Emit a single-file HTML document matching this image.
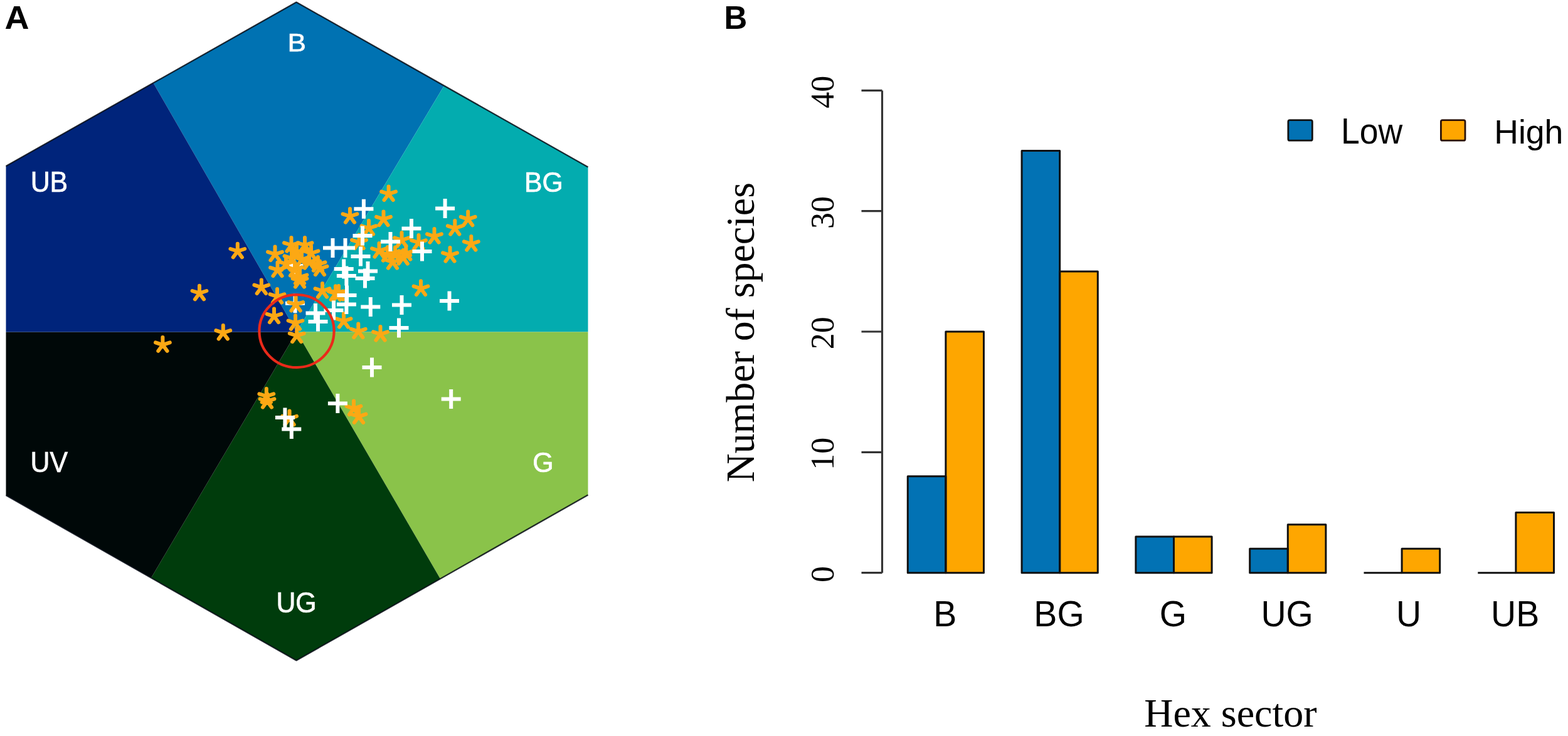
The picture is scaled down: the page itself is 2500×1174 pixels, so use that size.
<!DOCTYPE html>
<html><head><meta charset="utf-8"><title>Hexagon colour space and hex sectors</title>
<style>
html,body{margin:0;padding:0;background:#fff;}
body{width:2500px;height:1174px;overflow:hidden;}
svg{display:block;}
.sans{font-family:"Liberation Sans",Arial,Helvetica,sans-serif;}
.serif{font-family:"Liberation Serif","Times New Roman",serif;}
</style></head>
<body>
<svg width="2500" height="1174" viewBox="0 0 2500 1174">
<rect width="2500" height="1174" fill="#fff"/>
<!-- Panel A: hexagon -->
<g id="hex">
<polygon points="473.0,529.5 244.5,132.3 472.5,3.5 708.0,136.7" fill="#0072b2"/><polygon points="473.0,529.5 708.0,136.7 937.5,266.5 937.5,529.5" fill="#03acaf"/><polygon points="473.0,529.5 937.5,529.5 937.5,789.5 702.0,923.2" fill="#8ac34a"/><polygon points="473.0,529.5 702.0,923.2 472.5,1053.5 241.0,921.8" fill="#003c0c"/><polygon points="473.0,529.5 241.0,921.8 9.5,790.0 9.5,529.5" fill="#000808"/><polygon points="473.0,529.5 9.5,529.5 9.5,265.0 244.5,132.3" fill="#00247b"/>
<path d="M9.5,265.0 L472.5,3.5 L937.5,266.5 M937.5,789.5 L472.5,1053.5 L9.5,790.0" fill="none" stroke="#050a14" stroke-width="2.2" stroke-linejoin="round" stroke-opacity="0.85"/>
</g>
<g class="sans" fill="#fff" stroke="#fff" stroke-width="0.7" font-size="42.8" text-anchor="middle">
<text transform="translate(473.2 82.2) scale(1.03,0.95)">B</text>
<text transform="translate(78.4 306.3) scale(1,1.06)">UB</text>
<text transform="translate(867 306.3) scale(1,1.05)">BG</text>
<text transform="translate(78.2 752.9) scale(1,1.06)">UV</text>
<text transform="translate(866 753) scale(1,1.05)">G</text>
<text transform="translate(472.5 976.5) scale(1,1.06)">UG</text>
</g>
<path d="M452.5 424.0H483.5M468.0 408.5V439.5M455.0 483.7H486.0M470.5 468.2V499.2" fill="none" stroke="#fff" stroke-width="6"/>
<path d="M378.8 400.7L378.8 388.7M378.8 400.7L390.2 397.0M378.8 400.7L385.9 410.4M378.8 400.7L371.7 410.4M378.8 400.7L367.4 397.0M318.0 467.7L318.0 455.7M318.0 467.7L329.4 464.0M318.0 467.7L325.1 477.4M318.0 467.7L310.9 477.4M318.0 467.7L306.6 464.0M355.8 530.9L355.8 518.9M355.8 530.9L367.2 527.2M355.8 530.9L362.9 540.6M355.8 530.9L348.7 540.6M355.8 530.9L344.4 527.2M259.4 550.1L259.4 538.1M259.4 550.1L270.8 546.4M259.4 550.1L266.5 559.8M259.4 550.1L252.3 559.8M259.4 550.1L248.0 546.4M416.8 458.4L416.8 446.4M416.8 458.4L428.2 454.7M416.8 458.4L423.9 468.1M416.8 458.4L409.7 468.1M416.8 458.4L405.4 454.7M437.0 504.5L437.0 492.5M437.0 504.5L448.4 500.8M437.0 504.5L444.1 514.2M437.0 504.5L429.9 514.2M437.0 504.5L425.6 500.8M438.5 405.5L438.5 393.5M438.5 405.5L449.9 401.8M438.5 405.5L445.6 415.2M438.5 405.5L431.4 415.2M438.5 405.5L427.1 401.8M442.5 430.5L442.5 418.5M442.5 430.5L453.9 426.8M442.5 430.5L449.6 440.2M442.5 430.5L435.4 440.2M442.5 430.5L431.1 426.8M442.0 473.0L442.0 461.0M442.0 473.0L453.4 469.3M442.0 473.0L449.1 482.7M442.0 473.0L434.9 482.7M442.0 473.0L430.6 469.3M471.6 485.8L471.6 473.8M471.6 485.8L483.0 482.1M471.6 485.8L478.7 495.5M471.6 485.8L464.5 495.5M471.6 485.8L460.2 482.1M471.0 515.2L471.0 503.2M471.0 515.2L482.4 511.5M471.0 515.2L478.1 524.9M471.0 515.2L463.9 524.9M471.0 515.2L459.6 511.5M473.2 535.5L473.2 523.5M473.2 535.5L484.6 531.8M473.2 535.5L480.3 545.2M473.2 535.5L466.1 545.2M473.2 535.5L461.8 531.8M478.0 448.0L478.0 436.0M478.0 448.0L489.4 444.3M478.0 448.0L485.1 457.7M478.0 448.0L470.9 457.7M478.0 448.0L466.6 444.3M464.5 391.0L464.5 379.0M464.5 391.0L475.9 387.3M464.5 391.0L471.6 400.7M464.5 391.0L457.4 400.7M464.5 391.0L453.1 387.3M486.0 391.0L486.0 379.0M486.0 391.0L497.4 387.3M486.0 391.0L493.1 400.7M486.0 391.0L478.9 400.7M486.0 391.0L474.6 387.3M473.0 402.0L473.0 390.0M473.0 402.0L484.4 398.3M473.0 402.0L480.1 411.7M473.0 402.0L465.9 411.7M473.0 402.0L461.6 398.3M496.0 404.0L496.0 392.0M496.0 404.0L507.4 400.3M496.0 404.0L503.1 413.7M496.0 404.0L488.9 413.7M496.0 404.0L484.6 400.3M465.0 412.0L465.0 400.0M465.0 412.0L476.4 408.3M465.0 412.0L472.1 421.7M465.0 412.0L457.9 421.7M465.0 412.0L453.6 408.3M481.0 414.0L481.0 402.0M481.0 414.0L492.4 410.3M481.0 414.0L488.1 423.7M481.0 414.0L473.9 423.7M481.0 414.0L469.6 410.3M493.0 418.0L493.0 406.0M493.0 418.0L504.4 414.3M493.0 418.0L500.1 427.7M493.0 418.0L485.9 427.7M493.0 418.0L481.6 414.3M507.0 422.0L507.0 410.0M507.0 422.0L518.4 418.3M507.0 422.0L514.1 431.7M507.0 422.0L499.9 431.7M507.0 422.0L495.6 418.3M470.0 430.0L470.0 418.0M470.0 430.0L481.4 426.3M470.0 430.0L477.1 439.7M470.0 430.0L462.9 439.7M470.0 430.0L458.6 426.3M510.0 428.5L510.0 416.5M510.0 428.5L521.4 424.8M510.0 428.5L517.1 438.2M510.0 428.5L502.9 438.2M510.0 428.5L498.6 424.8M478.0 442.2L478.0 430.2M478.0 442.2L489.4 438.5M478.0 442.2L485.1 451.9M478.0 442.2L470.9 451.9M478.0 442.2L466.6 438.5M456.0 421.0L456.0 409.0M456.0 421.0L467.4 417.3M456.0 421.0L463.1 430.7M456.0 421.0L448.9 430.7M456.0 421.0L444.6 417.3M514.0 464.0L514.0 452.0M514.0 464.0L525.4 460.3M514.0 464.0L521.1 473.7M514.0 464.0L506.9 473.7M514.0 464.0L502.6 460.3M535.0 468.3L535.0 456.3M535.0 468.3L546.4 464.6M535.0 468.3L542.1 478.0M535.0 468.3L527.9 478.0M535.0 468.3L523.6 464.6M548.0 512.0L548.0 500.0M548.0 512.0L559.4 508.3M548.0 512.0L555.1 521.7M548.0 512.0L540.9 521.7M548.0 512.0L536.6 508.3M571.3 528.5L571.3 516.5M571.3 528.5L582.7 524.8M571.3 528.5L578.4 538.2M571.3 528.5L564.2 538.2M571.3 528.5L559.9 524.8M606.5 533.0L606.5 521.0M606.5 533.0L617.9 529.3M606.5 533.0L613.6 542.7M606.5 533.0L599.4 542.7M606.5 533.0L595.1 529.3M540.0 468.0L540.0 456.0M540.0 468.0L551.4 464.3M540.0 468.0L547.1 477.7M540.0 468.0L532.9 477.7M540.0 468.0L528.6 464.3M572.5 386.5L572.5 374.5M572.5 386.5L583.9 382.8M572.5 386.5L579.6 396.2M572.5 386.5L565.4 396.2M572.5 386.5L561.1 382.8M558.0 345.0L558.0 333.0M558.0 345.0L569.4 341.3M558.0 345.0L565.1 354.7M558.0 345.0L550.9 354.7M558.0 345.0L546.6 341.3M611.5 349.5L611.5 337.5M611.5 349.5L622.9 345.8M611.5 349.5L618.6 359.2M611.5 349.5L604.4 359.2M611.5 349.5L600.1 345.8M588.0 364.0L588.0 352.0M588.0 364.0L599.4 360.3M588.0 364.0L595.1 373.7M588.0 364.0L580.9 373.7M588.0 364.0L576.6 360.3M619.6 309.4L619.6 297.4M619.6 309.4L631.0 305.7M619.6 309.4L626.7 319.1M619.6 309.4L612.5 319.1M619.6 309.4L608.2 305.7M746.2 349.6L746.2 337.6M746.2 349.6L757.6 345.9M746.2 349.6L753.3 359.3M746.2 349.6L739.1 359.3M746.2 349.6L734.8 345.9M725.3 364.0L725.3 352.0M725.3 364.0L736.7 360.3M725.3 364.0L732.4 373.7M725.3 364.0L718.2 373.7M725.3 364.0L713.9 360.3M692.5 377.0L692.5 365.0M692.5 377.0L703.9 373.3M692.5 377.0L699.6 386.7M692.5 377.0L685.4 386.7M692.5 377.0L681.1 373.3M751.3 389.0L751.3 377.0M751.3 389.0L762.7 385.3M751.3 389.0L758.4 398.7M751.3 389.0L744.2 398.7M751.3 389.0L739.9 385.3M717.5 407.0L717.5 395.0M717.5 407.0L728.9 403.3M717.5 407.0L724.6 416.7M717.5 407.0L710.4 416.7M717.5 407.0L706.1 403.3M640.5 383.0L640.5 371.0M640.5 383.0L651.9 379.3M640.5 383.0L647.6 392.7M640.5 383.0L633.4 392.7M640.5 383.0L629.1 379.3M667.5 387.0L667.5 375.0M667.5 387.0L678.9 383.3M667.5 387.0L674.6 396.7M667.5 387.0L660.4 396.7M667.5 387.0L656.1 383.3M604.5 400.0L604.5 388.0M604.5 400.0L615.9 396.3M604.5 400.0L611.6 409.7M604.5 400.0L597.4 409.7M604.5 400.0L593.1 396.3M618.0 406.0L618.0 394.0M618.0 406.0L629.4 402.3M618.0 406.0L625.1 415.7M618.0 406.0L610.9 415.7M618.0 406.0L606.6 402.3M630.0 406.4L630.0 394.4M630.0 406.4L641.4 402.7M630.0 406.4L637.1 416.1M630.0 406.4L622.9 416.1M630.0 406.4L618.6 402.7M642.7 411.0L642.7 399.0M642.7 411.0L654.1 407.3M642.7 411.0L649.8 420.7M642.7 411.0L635.6 420.7M642.7 411.0L631.3 407.3M626.0 418.0L626.0 406.0M626.0 418.0L637.4 414.3M626.0 418.0L633.1 427.7M626.0 418.0L618.9 427.7M626.0 418.0L614.6 414.3M647.3 404.0L647.3 392.0M647.3 404.0L658.7 400.3M647.3 404.0L654.4 413.7M647.3 404.0L640.2 413.7M647.3 404.0L635.9 400.3M671.0 460.3L671.0 448.3M671.0 460.3L682.4 456.6M671.0 460.3L678.1 470.0M671.0 460.3L663.9 470.0M671.0 460.3L659.6 456.6M424.8 632.0L424.8 620.0M424.8 632.0L436.2 628.3M424.8 632.0L431.9 641.7M424.8 632.0L417.7 641.7M424.8 632.0L413.4 628.3M426.0 640.0L426.0 628.0M426.0 640.0L437.4 636.3M426.0 640.0L433.1 649.7M426.0 640.0L418.9 649.7M426.0 640.0L414.6 636.3M461.6 667.6L461.6 655.6M461.6 667.6L473.0 663.9M461.6 667.6L468.7 677.3M461.6 667.6L454.5 677.3M461.6 667.6L450.2 663.9M564.0 651.6L564.0 639.6M564.0 651.6L575.4 647.9M564.0 651.6L571.1 661.3M564.0 651.6L556.9 661.3M564.0 651.6L552.6 647.9M572.0 664.4L572.0 652.4M572.0 664.4L583.4 660.7M572.0 664.4L579.1 674.1M572.0 664.4L564.9 674.1M572.0 664.4L560.6 660.7" fill="none" stroke="#fca814" stroke-width="6" stroke-linecap="round"/>
<path d="M564.4 333.2H595.4M579.9 317.7V348.7M694.1 332.6H725.1M709.6 317.1V348.1M640.5 364.5H671.5M656.0 349.0V380.0M607.0 385.5H638.0M622.5 370.0V401.0M562.5 376.0H593.5M578.0 360.5V391.5M515.0 395.5H546.0M530.5 380.0V411.0M535.0 395.5H566.0M550.5 380.0V411.0M559.5 409.0H590.5M575.0 393.5V424.5M532.7 429.0H563.7M548.2 413.5V444.5M571.0 432.5H602.0M586.5 417.0V448.0M536.9 440.0H567.9M552.4 424.5V455.5M566.5 444.0H597.5M582.0 428.5V459.5M537.5 471.0H568.5M553.0 455.5V486.5M536.9 485.4H567.9M552.4 469.9V500.9M487.5 499.5H518.5M503.0 484.0V515.0M491.5 513.0H522.5M507.0 497.5V528.5M516.5 495.0H547.5M532.0 479.5V510.5M575.3 489.6H606.3M590.8 474.1V505.1M625.0 486.4H656.0M640.5 470.9V501.9M701.0 479.9H732.0M716.5 464.4V495.4M620.5 523.0H651.5M636.0 507.5V538.5M577.5 586.0H608.5M593.0 570.5V601.5M703.7 636.4H734.7M719.2 620.9V651.9M522.9 643.6H553.9M538.4 628.1V659.1M438.9 666.0H469.9M454.4 650.5V681.5M449.3 684.4H480.3M464.8 668.9V699.9M657.5 401.0H688.5M673.0 385.5V416.5" fill="none" stroke="#fff" stroke-width="6"/>
<ellipse cx="473" cy="528.2" rx="59.6" ry="58" fill="none" stroke="#ea2a1a" stroke-width="4.2"/>
<text class="sans" transform="translate(7.6 45.5) scale(1.06,1.02)" font-size="51" font-weight="bold" fill="#000">A</text>
<!-- Panel B: bar chart -->
<text class="sans" x="1154.6" y="46" font-size="51" font-weight="bold" fill="#000">B</text>
<rect x="1447.3" y="759.8" width="60.6" height="153.9" fill="#0272b4"/><rect x="1507.9" y="529.0" width="60.6" height="384.7" fill="#fea600"/><rect x="1629.1" y="240.6" width="60.6" height="673.1" fill="#0272b4"/><rect x="1689.7" y="432.9" width="60.6" height="480.8" fill="#fea600"/><rect x="1810.9" y="856.0" width="60.6" height="57.7" fill="#0272b4"/><rect x="1871.5" y="856.0" width="60.6" height="57.7" fill="#fea600"/><rect x="1992.7" y="875.2" width="60.6" height="38.5" fill="#0272b4"/><rect x="2053.3" y="836.8" width="60.6" height="76.9" fill="#fea600"/><rect x="2174.5" y="913.7" width="60.6" height="0.0" fill="#0272b4"/><rect x="2235.1" y="875.2" width="60.6" height="38.5" fill="#fea600"/><rect x="2356.3" y="913.7" width="60.6" height="0.0" fill="#0272b4"/><rect x="2416.9" y="817.5" width="60.6" height="96.2" fill="#fea600"/>
<g fill="none" stroke="#111" stroke-width="3" stroke-linejoin="round"><rect x="1447.3" y="759.8" width="60.6" height="153.9"/><rect x="1507.9" y="529.0" width="60.6" height="384.7"/><rect x="1629.1" y="240.6" width="60.6" height="673.1"/><rect x="1689.7" y="432.9" width="60.6" height="480.8"/><rect x="1810.9" y="856.0" width="60.6" height="57.7"/><rect x="1871.5" y="856.0" width="60.6" height="57.7"/><rect x="1992.7" y="875.2" width="60.6" height="38.5"/><rect x="2053.3" y="836.8" width="60.6" height="76.9"/><path d="M2174.5 913.7H2235.1"/><rect x="2235.1" y="875.2" width="60.6" height="38.5"/><path d="M2356.3 913.7H2416.9"/><rect x="2416.9" y="817.5" width="60.6" height="96.2"/></g>
<path d="M1406.5 144.4V913.7M1373.5 913.7H1406.5M1373.5 721.4H1406.5M1373.5 529.0H1406.5M1373.5 336.7H1406.5M1373.5 144.4H1406.5" fill="none" stroke="#333" stroke-width="3.2"/>
<g class="serif" font-size="52" fill="#000" text-anchor="middle"><text transform="translate(1328.5 916.0) rotate(-90)">0</text><text transform="translate(1328.5 723.7) rotate(-90)">10</text><text transform="translate(1328.5 531.3) rotate(-90)">20</text><text transform="translate(1328.5 339.0) rotate(-90)">30</text><text transform="translate(1328.5 146.7) rotate(-90)">40</text></g>
<text class="serif" font-size="63.8" fill="#000" text-anchor="middle" transform="translate(1201.9 530.2) rotate(-90)">Number of species</text>
<text class="serif" font-size="64" fill="#000" text-anchor="middle" x="1961.9" y="1158.5">Hex sector</text>
<g class="sans" font-size="55.6" fill="#000" text-anchor="middle"><text transform="translate(1506.7 998.8) scale(1,1.035)">B</text><text transform="translate(1688.5 998.8) scale(1,1.035)">BG</text><text transform="translate(1870.3 998.8) scale(1,1.035)">G</text><text transform="translate(2052.1 998.8) scale(1,1.035)">UG</text><text transform="translate(2246.0 998.8) scale(1,1.035)">U</text><text transform="translate(2415.7 998.8) scale(1,1.035)">UB</text></g>
<rect x="2053.9" y="191.6" width="38.4" height="32.6" rx="2.5" fill="#0272b4" stroke="#111" stroke-width="2.8"/>
<rect x="2297.4" y="191.6" width="38.6" height="32.6" rx="2.5" fill="#fea600" stroke="#2a1208" stroke-width="2.8"/>
<g class="sans" font-size="53.6" fill="#000"><text transform="translate(2138 229.2) scale(1,1.075)">Low</text><text transform="translate(2382.2 229.2) scale(1,1.0)">High</text></g>
</svg>
</body></html>
